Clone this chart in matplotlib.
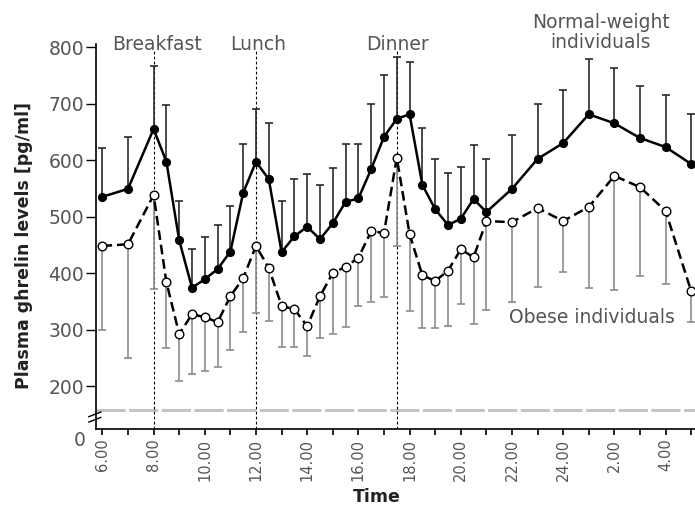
import numpy as np
import matplotlib
matplotlib.use("Agg")
import matplotlib.pyplot as plt
from matplotlib import transforms

plt.rcParams['lines.scale_dashes'] = False
plt.rcParams['font.family'] = ['DejaVu Sans']

# ---------------- data ----------------
hours = [6, 7, 8, 8.5, 9, 9.5, 10, 10.5, 11, 11.5, 12, 12.5, 13, 13.5, 14, 14.5,
         15, 15.5, 16, 16.5, 17, 17.5, 18, 18.5, 19, 19.5, 20, 20.5, 21,
         22, 23, 24, 25, 26, 27, 28, 29]

normal_mean = [535, 549, 655, 597, 458, 374, 389, 407, 438, 542, 597, 566, 437, 465,
               482, 460, 488, 526, 532, 584, 641, 673, 681, 556, 513, 485, 496, 531,
               508, 549, 602, 630, 681, 665, 639, 623, 593]
normal_upper = [621, 641, 766, 697, 528, 442, 463, 485, 518, 628, 690, 665, 527, 566,
                575, 556, 586, 628, 628, 699, 751, 783, 773, 657, 602, 577, 588, 627,
                602, 644, 699, 724, 779, 763, 731, 715, 681]

obese_mean = [448, 451, 538, 384, 292, 327, 322, 313, 359, 391, 448, 409, 342, 336,
              306, 359, 400, 411, 427, 474, 471, 604, 469, 396, 386, 404, 442, 428,
              492, 490, 515, 492, 517, 572, 552, 510, 368]
obese_lower = [299, 250, 372, 267, 209, 221, 227, 234, 264, 295, 329, 315, 269, 269,
               253, 285, 292, 304, 342, 349, 358, 448, 333, 303, 303, 306, 345, 310,
               334, 349, 375, 402, 373, 370, 395, 380, 313]

meal_times = [8, 12, 17.5]
meal_names = ["Breakfast", "Lunch", "Dinner"]

major_hours = [6, 8, 10, 12, 14, 16, 18, 20, 22, 24, 26, 28]
major_labels = ["6.00", "8.00", "10.00", "12.00", "14.00", "16.00", "18.00",
                "20.00", "22.00", "24.00", "2.00", "4.00"]
minor_hours = [7, 9, 11, 13, 15, 17, 19, 21, 23, 25, 27, 29]
y_ticks = [200, 300, 400, 500, 600, 700, 800]

# ---------------- figure ----------------
fig = plt.figure(figsize=(6.95, 5.08), dpi=100)
ax = fig.add_axes([96/695, (508-429)/508, 599/695, (429-44.2)/508])


def fwd(y):
    y = np.asarray(y, float)
    return np.where(y >= 150, y, 124 + y * 26 / 150)


def inv(t):
    t = np.asarray(t, float)
    return np.where(t >= 150, t, (t - 124) * 150 / 26)


ax.set_yscale('function', functions=(fwd, inv))
ax.set_ylim(0, 805)
ax.set_xlim(5.75, 29.15)

txt_col = '#555555'

# gray dashed reference line near the axis break
ax.axhline(158.5, color='#c4c4c4', lw=2.2, dashes=(21, 2.5), zorder=1)

# meal lines
ax.vlines(meal_times, 0, 793, colors='black', linestyles=(0, (2.0, 1.6)), lw=0.8, zorder=2)

x = np.array(hours, float)
nm = np.array(normal_mean, float)
nu = np.array(normal_upper, float)
om = np.array(obese_mean, float)
ol = np.array(obese_lower, float)

# obese error bars (lower)
eb_o = ax.errorbar(x, om, yerr=[om - ol, np.zeros_like(om)], fmt='none',
                   ecolor='#8c8c8c', elinewidth=1.2, capsize=3, capthick=1.2, zorder=3)
eb_o[1][1].set_visible(False)
# normal error bars (upper)
eb_n = ax.errorbar(x, nm, yerr=[np.zeros_like(nm), nu - nm], fmt='none',
                   ecolor='#2a2a2a', elinewidth=1.2, capsize=3, capthick=1.2, zorder=3)
eb_n[1][0].set_visible(False)

ax.plot(x, om, color='black', lw=1.8, dashes=(7, 3.5), marker='o', ms=6.2,
        mfc='white', mec='black', mew=1.0, zorder=5)
ax.plot(x, nm, color='black', lw=1.8, marker='o', ms=5.6, mfc='black',
        mec='black', zorder=6)

# ---------------- axes styling ----------------
for s in ['top', 'right']:
    ax.spines[s].set_visible(False)
ax.spines['left'].set_linewidth(1.2)
ax.spines['bottom'].set_linewidth(1.2)

ax.set_yticks(y_ticks)
ax.set_yticklabels([str(v) for v in y_ticks])
ax.tick_params(axis='y', length=7, width=1.0, pad=1.5, labelsize=13.5,
               labelcolor=txt_col)

ax.set_xticks(major_hours)
ax.set_xticklabels(major_labels, rotation=90)
ax.set_xticks(minor_hours, minor=True)
ax.tick_params(axis='x', which='both', length=4.5, width=1.2, pad=2.5,
               labelsize=10.5, labelcolor=txt_col)

# "0" label below the break
ax.text(-0.018, 0, "0", transform=transforms.offset_copy(ax.get_yaxis_transform(),
        fig=fig, x=0, y=-11, units='dots'),
        ha='right', va='center', fontsize=13.5, color=txt_col, clip_on=False)

# axis break marks
for yb in (0.018, 0.032):
    ax.plot([-0.012, 0.008], [yb, yb + 0.012], transform=ax.transAxes,
            color='black', lw=1.0, clip_on=False, zorder=7)

ax.set_ylabel("Plasma ghrelin levels [pg/ml]", fontsize=12.5, fontweight='bold',
              color='#222222')
ax.yaxis.set_label_coords(-0.106, 0.478)
ax.set_xlabel("Time", fontsize=12.5, fontweight='bold', color='#222222')
ax.xaxis.set_label_coords((377-96)/599, -0.153)

# annotations
label_x = [8.13, 12.07, 17.54]
for lx, name in zip(label_x, meal_names):
    ax.text(lx, 805, name, ha='center', va='center', fontsize=13.5,
            color=txt_col, clip_on=False)
ax.text(25.47, 826, "Normal-weight\nindividuals", ha='center', va='center',
        fontsize=13.5, color=txt_col, linespacing=1.1, clip_on=False)
ax.text(25.12, 322, "Obese individuals", ha='center', va='center',
        fontsize=13.5, color=txt_col, clip_on=False)

fig.savefig("out.png", dpi=100)
